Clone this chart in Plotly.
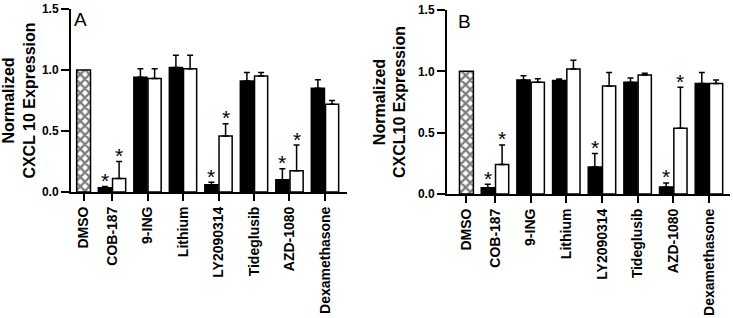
import plotly.graph_objects as go

categories = ["DMSO", "COB-187", "9-ING", "Lithium", "LY2090314",
              "Tideglusib", "AZD-1080", "Dexamethasone"]
positions = [0.2, 1, 2, 3, 4, 5, 6, 7]

# Panel A
a_black = [None, 0.035, 0.94, 1.02, 0.06, 0.91, 0.10, 0.85]
a_black_err = [None, 0.01, 0.07, 0.10, 0.02, 0.07, 0.09, 0.07]
a_white = [None, 0.11, 0.93, 1.01, 0.46, 0.95, 0.175, 0.72]
a_white_err = [None, 0.14, 0.08, 0.11, 0.10, 0.03, 0.21, 0.03]
a_black_sig = [False, True, False, False, True, False, True, False]
a_white_sig = [False, True, False, False, True, False, True, False]

# Panel B
b_black = [None, 0.05, 0.93, 0.925, 0.22, 0.91, 0.057, 0.90]
b_black_err = [None, 0.03, 0.035, 0.012, 0.11, 0.035, 0.033, 0.09]
b_white = [None, 0.24, 0.91, 1.02, 0.88, 0.97, 0.535, 0.90]
b_white_err = [None, 0.16, 0.03, 0.07, 0.11, 0.015, 0.335, 0.03]
b_black_sig = [False, True, False, False, True, False, True, False]
b_white_sig = [False, True, False, False, False, False, True, False]

dmso_value = 1.0

y_ticks = [0.0, 0.5, 1.0, 1.5]

FONT = "Liberation Sans, Arial, sans-serif"
fig = go.Figure()
star_annotations = []


def add_panel(xa, ya, black, black_err, white, white_err, bsig, wsig):
    xs = positions[1:]
    # DMSO checkered bar
    fig.add_trace(go.Bar(
        x=[positions[0]], y=[dmso_value], width=0.39,
        marker=dict(color="white", line=dict(color="black", width=1.5),
                    pattern=dict(shape="x", size=6.6, solidity=0.6,
                                 fgcolor="black", bgcolor="white")),
        xaxis=xa, yaxis=ya, showlegend=False))
    fig.add_trace(go.Bar(
        x=[p - 0.2 for p in xs], y=black[1:], width=0.37,
        marker=dict(color="black", line=dict(color="black", width=1.5)),
        error_y=dict(type="data", symmetric=False, array=black_err[1:],
                     arrayminus=[0] * len(xs), color="black",
                     thickness=1.5, width=3),
        xaxis=xa, yaxis=ya, showlegend=False))
    fig.add_trace(go.Bar(
        x=[p + 0.2 for p in xs], y=white[1:], width=0.37,
        marker=dict(color="white", line=dict(color="black", width=1.5)),
        error_y=dict(type="data", symmetric=False, array=white_err[1:],
                     arrayminus=[0] * len(xs), color="black",
                     thickness=1.5, width=3),
        xaxis=xa, yaxis=ya, showlegend=False))
    for i in range(1, len(positions)):
        marks = []
        if bsig[i]:
            marks.append((positions[i] - 0.2, black[i] + black_err[i]))
        if wsig[i]:
            marks.append((positions[i] + 0.2, white[i] + white_err[i]))
        for mx, my in marks:
            star_annotations.append(dict(
                text="*", x=mx, y=my, xref=xa, yref=ya,
                xanchor="center", yanchor="middle", yshift=6,
                showarrow=False,
                font=dict(family=FONT, size=21, color="black")))


add_panel("x", "y", a_black, a_black_err, a_white, a_white_err,
          a_black_sig, a_white_sig)
add_panel("x2", "y2", b_black, b_black_err, b_white, b_white_err,
          b_black_sig, b_white_sig)

xcommon = dict(tickmode="array", tickvals=positions, ticktext=categories,
               tickangle=-90, ticks="outside", ticklen=7, tickwidth=1.5,
               tickcolor="black", showline=True, linecolor="black",
               linewidth=2, showgrid=False, zeroline=False, automargin=False,
               tickfont=dict(family=FONT, size=14, color="black",
                             weight="bold"))
ycommon = dict(range=[0, 1.5], tickvals=y_ticks, tickformat=".1f",
               ticks="outside", ticklen=8, tickwidth=1.5, tickcolor="black",
               showline=True, linecolor="black", linewidth=2,
               showgrid=False, zeroline=False, automargin=False,
               tickfont=dict(family=FONT, size=12, color="black",
                             weight="bold"))

fig.update_layout(
    width=733, height=318,
    margin=dict(l=0, r=0, t=0, b=0),
    paper_bgcolor="white", plot_bgcolor="white",
    barmode="overlay",
    xaxis=dict(domain=[71 / 733, 347 / 733], range=[-0.155, 7.62],
               anchor="y", **xcommon),
    yaxis=dict(domain=[(318 - 192) / 318, (318 - 9) / 318], anchor="x",
               title=dict(text="Normalized<br>CXCL 10 Expression",
                          font=dict(family=FONT, size=16, color="black",
                                    weight="bold"), standoff=8),
               **ycommon),
    xaxis2=dict(domain=[447 / 733, 730 / 733], range=[-0.345, 7.59],
                anchor="y2", **xcommon),
    yaxis2=dict(domain=[(318 - 194) / 318, (318 - 10) / 318], anchor="x2",
                title=dict(text="Normalized<br>CXCL10 Expression",
                           font=dict(family=FONT, size=16, color="black",
                                     weight="bold"), standoff=8),
                **ycommon),
    annotations=[
        dict(text="A", xref="paper", yref="paper", x=72 / 733, y=1 - 7 / 318,
             xanchor="left", yanchor="top", showarrow=False,
             font=dict(family=FONT, size=19, color="black")),
        dict(text="B", xref="paper", yref="paper", x=456 / 733,
             y=1 - 9 / 318, xanchor="left", yanchor="top", showarrow=False,
             font=dict(family=FONT, size=19, color="black")),
    ] + star_annotations,
)

fig.write_html(
    "out.html",
    config={"displayModeBar": False},
    post_script="document.body.style.margin='0';"
                "document.body.style.overflow='hidden';")
